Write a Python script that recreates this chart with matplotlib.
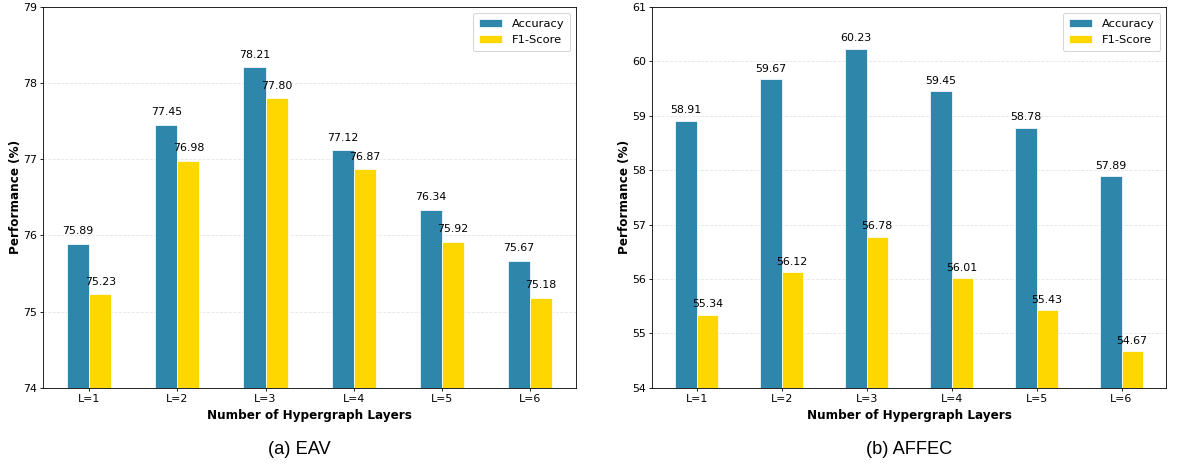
import numpy as np
import matplotlib.pyplot as plt

layers = ['L=1', 'L=2', 'L=3', 'L=4', 'L=5', 'L=6']

# EAV
eav_acc = [75.89, 77.45, 78.21, 77.12, 76.34, 75.67]
eav_f1 = [75.23, 76.98, 77.80, 76.87, 75.92, 75.18]

# AFFEC
affec_acc = [58.91, 59.67, 60.23, 59.45, 58.78, 57.89]
affec_f1 = [55.34, 56.12, 56.78, 56.01, 55.43, 54.67]

col_acc = '#2E86AB'
col_f1 = '#FFD700'

fig = plt.figure(figsize=(15.76, 6.2), dpi=75)
ax1 = fig.add_axes([0.0364, 0.166, 0.451, 0.819])
ax2 = fig.add_axes([0.5516, 0.166, 0.435, 0.819])


def draw(ax, acc, f1, ylim, caption, cx):
    x = np.arange(len(layers))
    w = 0.25
    b1 = ax.bar(x - w / 2, acc, w, color=col_acc, label='Accuracy', edgecolor='white', linewidth=0.7)
    b2 = ax.bar(x + w / 2, f1, w, color=col_f1, label='F1-Score', edgecolor='white', linewidth=0.7)
    for bars in (b1, b2):
        for b in bars:
            h = b.get_height()
            ax.text(b.get_x() + b.get_width() / 2, h + 0.1, f'{h:.2f}',
                    ha='center', va='bottom', fontsize=10.5)
    ax.set_ylim(*ylim)
    ax.set_xticks(x)
    ax.set_xticklabels(layers)
    ax.tick_params(labelsize=10.5, length=3, pad=2.5)
    ax.set_xlabel('Number of Hypergraph Layers', fontsize=11.5, fontweight='bold', labelpad=5)
    ax.set_ylabel('Performance (%)', fontsize=11.5, fontweight='bold', labelpad=1)
    ax.grid(axis='y', linestyle='--', alpha=0.3)
    ax.set_axisbelow(True)
    ax.legend(loc='upper right', fontsize=11, borderpad=0.55)
    fig.text(cx, 0.034, caption, ha='center', va='center',
             fontsize=17.5, family='Liberation Sans')


draw(ax1, eav_acc, eav_f1, (74, 79), '(a) EAV', 0.253)
draw(ax2, affec_acc, affec_f1, (54, 61), '(b) AFFEC', 0.7695)

fig.savefig('out.png', dpi=75)
